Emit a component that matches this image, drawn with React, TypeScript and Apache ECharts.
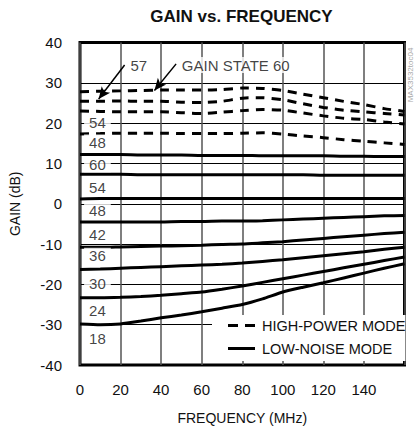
import React, { useEffect, useRef } from 'react';
import * as echarts from 'echarts';

const FONT = '"Liberation Sans", Arial, sans-serif';

// Frequency grid (MHz)
const FREQ = [0, 10, 20, 30, 40, 50, 60, 70, 80, 90, 100, 110, 120, 130, 140, 150, 160];

// High-power mode (dashed)
const HP60 = [27.8, 27.9, 28.0, 28.1, 28.2, 28.2, 28.2, 28.3, 28.7, 28.6, 28.1, 27.2, 26.3, 25.4, 24.6, 23.6, 22.9];
const HP57 = [25.4, 25.4, 25.5, 25.4, 25.4, 25.2, 25.1, 25.4, 26.2, 26.3, 25.8, 24.8, 23.9, 23.2, 22.8, 22.4, 22.0];
const HP54 = [23.0, 22.9, 22.8, 22.8, 22.8, 22.6, 22.4, 22.7, 23.1, 23.4, 23.2, 22.5, 21.8, 21.2, 20.9, 20.3, 19.8];
const HP48 = [17.3, 17.4, 17.5, 17.5, 17.5, 17.4, 17.4, 17.4, 17.5, 17.6, 17.3, 16.8, 16.4, 15.9, 15.5, 15.1, 14.7];

// Low-noise mode (solid)
const LN60 = [12.2, 12.2, 12.2, 12.1, 12.1, 12.1, 12.0, 12.0, 12.0, 11.9, 11.9, 11.9, 11.9, 11.8, 11.8, 11.7, 11.7];
const LN54 = [7.3, 7.3, 7.3, 7.2, 7.2, 7.2, 7.2, 7.2, 7.2, 7.2, 7.2, 7.2, 7.1, 7.1, 7.1, 7.1, 7.1];
const LN48 = [1.2, 1.3, 1.3, 1.3, 1.3, 1.3, 1.3, 1.3, 1.3, 1.3, 1.3, 1.3, 1.3, 1.3, 1.3, 1.3, 1.3];
const LN42 = [-4.5, -4.5, -4.5, -4.5, -4.5, -4.4, -4.4, -4.3, -4.3, -4.2, -4.0, -3.8, -3.6, -3.4, -3.2, -3.0, -2.9];
const LN36 = [-10.8, -10.8, -10.7, -10.6, -10.5, -10.4, -10.3, -10.1, -10.0, -9.7, -9.4, -9.0, -8.6, -8.2, -7.8, -7.4, -7.1];
const LN30 = [-16.3, -16.2, -16.0, -15.8, -15.6, -15.4, -15.2, -15.0, -14.7, -14.3, -13.9, -13.4, -12.9, -12.4, -11.9, -11.3, -10.8];
const LN24 = [-23.3, -23.3, -23.2, -23.0, -22.7, -22.3, -21.9, -21.2, -20.4, -19.5, -18.6, -17.7, -16.8, -15.9, -15.0, -14.1, -13.2];
const LN18 = [-29.8, -30.0, -29.8, -29.1, -28.3, -27.6, -26.8, -25.9, -25.0, -23.6, -21.9, -20.7, -19.6, -18.4, -17.2, -16.0, -14.9];

const HP_CURVES = [HP60, HP57, HP54, HP48];
const LN_CURVES = [LN60, LN54, LN48, LN42, LN36, LN30, LN24, LN18];

// Curve state labels (text, freq, gain)
const STATE_LABELS = ['54', '48', '60', '54', '48', '42', '36', '30', '24', '18'];
const STATE_LABEL_FREQ = [8.6, 8.6, 8.6, 8.6, 8.6, 8.6, 8.6, 8.6, 8.6, 8.6];
const STATE_LABEL_GAIN = [20.1, 15.2, 9.8, 4.1, -1.6, -7.7, -12.9, -19.8, -26.5, -33.4];

// Arrow callouts
const CALLOUT_TEXT = ['57', 'GAIN STATE 60'];
const CALLOUT_POS = [[29.0, 34.4], [76.8, 34.4]];
const ARROW_FROM = [[22.0, 34.4], [47.4, 34.7]];
const ARROW_TO = [[9.2, 26.0], [36.7, 28.1]];

const HP_NAME = 'HIGH-POWER MODE';
const LN_NAME = 'LOW-NOISE MODE';

export default function App() {
  const ref = useRef<HTMLDivElement>(null);
  useEffect(() => {
    if (!ref.current) return;
    const chart = echarts.init(ref.current, undefined, { renderer: 'svg' });

    const hpSeries = HP_CURVES.map((c) => ({
      name: HP_NAME,
      type: 'line',
      data: FREQ.map((f, i) => [f, c[i]]),
      symbol: 'none',
      smooth: 0.2,
      z: 3,
      itemStyle: { color: '#000' },
      lineStyle: { color: '#000', width: 3, type: [9, 7] },
    }));
    const lnSeries = LN_CURVES.map((c) => ({
      name: LN_NAME,
      type: 'line',
      data: FREQ.map((f, i) => [f, c[i]]),
      symbol: 'none',
      smooth: 0.2,
      z: 3,
      itemStyle: { color: '#000' },
      lineStyle: { color: '#000', width: 3, type: 'solid' },
    }));

    const labelData = STATE_LABELS.map((t, i) => ({
      name: t,
      value: [STATE_LABEL_FREQ[i], STATE_LABEL_GAIN[i]],
    })).concat(
      CALLOUT_TEXT.map((t, i) => ({ name: t, value: CALLOUT_POS[i] }))
    );

    const labelSeries = {
      name: 'labels',
      type: 'scatter',
      symbolSize: 0,
      z: 6,
      silent: true,
      data: labelData,
      itemStyle: { color: 'transparent' },
      label: {
        show: true,
        position: 'inside',
        formatter: '{b}',
        backgroundColor: '#fff',
        padding: [1, 5, 0, 5],
        color: '#111',
        fontSize: 15,
        fontFamily: FONT,
      },
      markLine: {
        silent: true,
        animation: false,
        label: { show: false },
        lineStyle: { color: '#000', width: 1.5, type: 'solid' },
        data: ARROW_FROM.map((a, i) => [
          { coord: a, symbol: 'none' },
          { coord: ARROW_TO[i], symbol: 'arrow', symbolSize: [8, 12] },
        ]),
      },
    };

    chart.setOption({
      animation: false,
      grid: {
        left: 78.5,
        right: 10.5,
        top: 42.5,
        bottom: 63.3,
        show: true,
        borderColor: '#000',
        borderWidth: 3,
        backgroundColor: 'transparent',
      },
      legend: {
        data: [
          { name: HP_NAME, icon: 'path://M0 0H10V3H0Z M17 0H27V3H17Z' },
          { name: LN_NAME, icon: 'path://M0 0H27V3H0Z' },
        ],
        orient: 'vertical',
        left: 212,
        top: 315,
        backgroundColor: '#fff',
        padding: [2, 0, 4, 16],
        itemGap: 6,
        itemWidth: 27,
        itemHeight: 3,
        selectedMode: false,
        textStyle: { fontSize: 14.5, color: '#111', fontFamily: FONT, lineHeight: 17, padding: [0, 0, 0, 2] },
      },
      xAxis: {
        type: 'value',
        min: 0,
        max: 160,
        interval: 20,
        name: 'FREQUENCY (MHz)',
        nameLocation: 'middle',
        nameGap: 46,
        nameTextStyle: { fontSize: 14, color: '#111', fontFamily: FONT },
        axisLine: { show: false },
        axisTick: { show: false },
        axisLabel: {
          fontSize: 15,
          color: '#111',
          fontFamily: FONT,
          margin: 17,
          formatter: (v: number) => (v === 160 ? '' : String(v)),
        },
        splitLine: { show: true, lineStyle: { color: '#555', width: 1.5 } },
      },
      yAxis: {
        type: 'value',
        min: -40,
        max: 40,
        interval: 10,
        name: 'GAIN (dB)',
        nameLocation: 'middle',
        nameGap: 58,
        nameTextStyle: { fontSize: 14, color: '#111', fontFamily: FONT },
        axisLine: { show: false },
        axisTick: { show: false },
        axisLabel: { fontSize: 15, color: '#111', fontFamily: FONT, margin: 18 },
        splitLine: { show: true, lineStyle: { color: '#000', width: 1 } },
      },
      graphic: [
        {
          type: 'text',
          x: 241.5,
          y: 16,
          style: {
            text: 'GAIN vs. FREQUENCY',
            fontSize: 17,
            fontWeight: 'bold',
            fontFamily: FONT,
            fill: '#111',
            textAlign: 'center',
            textVerticalAlign: 'middle',
          },
        },
        {
          type: 'text',
          x: 410.5,
          y: 75,
          rotation: Math.PI / 2,
          style: {
            text: 'MAX3532toc04',
            fontSize: 8,
            fontFamily: FONT,
            fill: '#aaa',
            textAlign: 'center',
            textVerticalAlign: 'middle',
          },
        },
      ],
      series: [...hpSeries, ...lnSeries, labelSeries],
    });

    return () => chart.dispose();
  }, []);

  return (
    <div
      ref={ref}
      style={{ position: 'absolute', left: 0, top: 0, width: 415, height: 430, background: '#fff' }}
    />
  );
}
